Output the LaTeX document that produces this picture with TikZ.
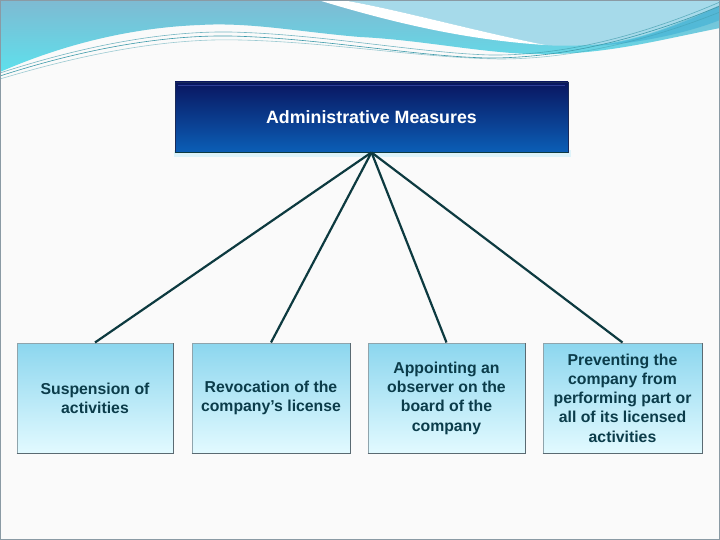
\documentclass[tikz,border=0pt]{standalone}
\usepackage{fontspec}
\setmainfont{Liberation Sans}
\definecolor{bgc}{HTML}{FAFAFA}
\definecolor{frame}{HTML}{8A9AA4}
\definecolor{waveTop}{HTML}{7EBAD2}
\definecolor{waveBot}{HTML}{5EE0EC}
\definecolor{waveLight}{HTML}{A6DAEA}
\definecolor{waveDark}{HTML}{45B4D6}
\definecolor{waveLine}{HTML}{3E9AAA}
\definecolor{navyTop}{HTML}{0A1660}
\definecolor{navyBot}{HTML}{0B5EB6}
\definecolor{navyEdge}{HTML}{1A2A58}
\definecolor{navyHi}{HTML}{2E3F96}
\definecolor{boxTop}{HTML}{8CD6EE}
\definecolor{boxBot}{HTML}{E2FAFF}
\definecolor{boxEdge}{HTML}{8FA4AC}
\definecolor{boxDark}{HTML}{5A6A72}
\definecolor{boxText}{HTML}{0B3C4A}
\definecolor{conn}{HTML}{0D3A40}
\definecolor{glow}{HTML}{DDF3FA}
\begin{document}
\begin{tikzpicture}[x=1pt,y=-1pt,
  topbox/.style={draw=navyEdge, line width=0.8pt, top color=navyTop, bottom color=navyBot,
    minimum width=393pt, minimum height=70pt, inner sep=0pt,
    text=white, font=\fontsize{17.8}{20}\selectfont\bfseries},
  subbox/.style={draw=boxEdge, line width=1pt, top color=boxTop, bottom color=boxBot,
    minimum height=110pt, inner sep=0pt, text=boxText, align=center,
    font=\fontsize{15.8}{19.3}\selectfont\bfseries},
  connector/.style={draw=conn, line width=2.2pt},
  darkedge/.style={draw=boxDark, line width=1.4pt},
  wavel/.style={draw=waveLine, line width=0.6pt}
]
\useasboundingbox (0,0) rectangle (720,540);
\fill[bgc] (0,0) rectangle (720,540);
% wave decoration
\shade[top color=waveTop, bottom color=waveBot]
  (0,0) -- (720,0) -- (720,28) .. controls (650,42) and (600,56) .. (527,54)
  .. controls (470,51) and (420,40) .. (360,37)
  .. controls (300,32) and (250,22) .. (200,25)
  .. controls (120,28) and (50,50) .. (0,72) -- cycle;
\fill[waveLight] (342,0) -- (720,0) -- (720,5) .. controls (680,22) and (640,42) .. (590,45)
  .. controls (570,46) and (555,46) .. (545,45)
  .. controls (470,30) and (400,10) .. (342,0) -- cycle;
\fill[waveDark, opacity=0.7] (720,6) .. controls (680,24) and (640,42) .. (590,46)
  .. controls (640,44) and (690,32) .. (720,20) -- cycle;
\fill[white] (318,0) .. controls (400,25) and (470,40) .. (545,45)
  .. controls (470,30) and (400,10) .. (342,0) -- cycle;
\draw[wavel] (0,76) .. controls (80,50) and (160,35) .. (230,36)
  .. controls (320,38) and (420,57) .. (490,58)
  .. controls (570,58) and (650,35) .. (720,6);
\draw[wavel, opacity=0.7] (0,73) .. controls (80,47) and (160,31) .. (230,32)
  .. controls (320,34) and (420,53) .. (490,55)
  .. controls (570,56) and (650,32) .. (720,2);
\draw[wavel, opacity=0.5] (0,79) .. controls (90,52) and (170,38) .. (240,40)
  .. controls (330,42) and (420,58) .. (500,59)
  .. controls (580,59) and (660,36) .. (720,12);
\draw[frame, line width=1pt] (0.5,0.5) rectangle (719.5,539.5);
% top box
\fill[glow] (174,150) rectangle (571,157);
\node[topbox] (top) at (371.5,117) {Administrative Measures};
\draw[draw=navyHi, line width=1pt] (178,86) -- (565,86);
\draw[draw=conn, line width=1.4pt] (top.south west) -- (top.south east);
% sub boxes
\node[subbox, minimum width=156pt] (b1) at (95,398) {Suspension of\\activities};
\node[subbox, minimum width=158pt] (b2) at (271,398) {Revocation of the\\company’s license};
\node[subbox, minimum width=157pt] (b3) at (446.5,398) {Appointing an\\observer on the\\board of the\\company};
\node[subbox, minimum width=159pt] (b4) at (622.5,398) {Preventing the\\company from\\performing part or\\all of its licensed\\activities};
\foreach \b in {b1,b2,b3,b4} {
  \draw[darkedge] (\b.south west) -- (\b.south east) -- (\b.north east);
}
% connectors
\foreach \b in {b1,b2,b3,b4} {
  \draw[connector] (top.south) -- (\b.north);
}
\end{tikzpicture}
\end{document}
